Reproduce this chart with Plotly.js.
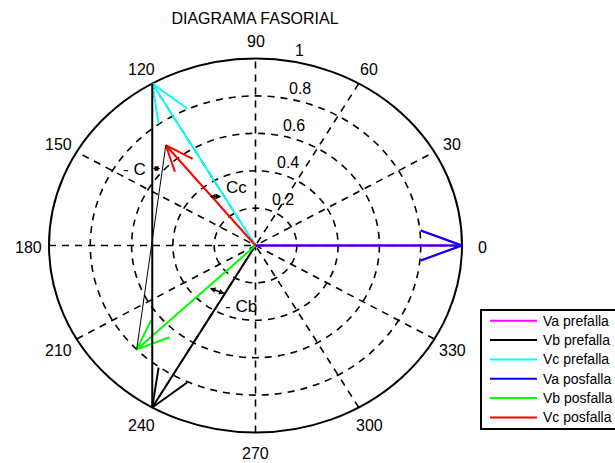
<!DOCTYPE html>
<html><head><meta charset="utf-8">
<script src="https://cdn.plot.ly/plotly-3.0.1.min.js"></script>
<style>html,body{margin:0;padding:0;background:#fff}#chart{width:615px;height:463px}</style>
</head><body><div id="chart"></div>
<script>
// ---- data ----
const seriesNames = ['Va prefalla', 'Vb prefalla', 'Vc prefalla', 'Va posfalla', 'Vb posfalla', 'Vc posfalla'];
const magnitudes = [1.0, 1.0, 1.0, 1.0, 0.80, 0.69];
const anglesDeg = [0, 240, 120, 0, 224, 129];
const seriesColors = ['#ff00ff', '#000000', '#00ffff', '#0000ff', '#00ff00', '#ff0000'];
const angleTicks = [0, 30, 60, 90, 120, 150, 180, 210, 240, 270, 300, 330];
const angleTickLabels = ['0', '30', '60', '90', '120', '150', '180', '210', '240', '270', '300', '330'];
const ringValues = [0.2, 0.4, 0.6, 0.8, 1];
const ringLabels = ['0.2', '0.4', '0.6', '0.8', '1'];
// lines joining phasor tips: [from series index, to series index]
const connectors = [[1, 2], [5, 4]];
const angleMarkLabels = ['Cc', '- C', '- Cb'];

// ---- geometry helpers ----
const RAD = Math.PI / 180;
function tip(m, a) { return [m * Math.cos(a * RAD), m * Math.sin(a * RAD)]; }
// compass-style arrow: [0, 1, 0.8+0.08i, 1, 0.8-0.08i] * z
function arrow(m, a) {
  const zr = m * Math.cos(a * RAD), zi = m * Math.sin(a * RAD);
  const base = [[0, 0], [1, 0], [0.8, 0.08], [1, 0], [0.8, -0.08]];
  const x = [], y = [];
  base.forEach(([br, bi]) => { x.push(br * zr - bi * zi); y.push(br * zi + bi * zr); });
  return {x, y};
}

const traces = [];
seriesNames.forEach((name, i) => {
  const p = arrow(magnitudes[i], anglesDeg[i]);
  traces.push({type: 'scatter', mode: 'lines', x: p.x, y: p.y, name: name, showlegend: false,
    line: {color: seriesColors[i], width: 2}, hoverinfo: 'skip'});
});
connectors.forEach(([a, b], k) => {
  const p1 = tip(magnitudes[a], anglesDeg[a]), p2 = tip(magnitudes[b], anglesDeg[b]);
  traces.push({type: 'scatter', mode: 'lines', x: [p1[0], p2[0]], y: [p1[1], p2[1]],
    showlegend: false, line: {color: '#000', width: k === 0 ? 2 : 1}, hoverinfo: 'skip'});
});

// ---- grid (polar rings and spokes) ----
const shapes = [];
ringValues.forEach(r => {
  shapes.push({type: 'circle', xref: 'x', yref: 'y', x0: -r, x1: r, y0: -r, y1: r, layer: 'below',
    line: r === 1 ? {color: '#000', width: 2} : {color: '#000', width: 1.6, dash: '7px,6px'}});
});
[0, 30, 60, 90, 120, 150].forEach(a => {
  const c = Math.cos(a * RAD), s = Math.sin(a * RAD);
  shapes.push({type: 'line', xref: 'x', yref: 'y', x0: -c, y0: -s, x1: c, y1: s, layer: 'below',
    line: {color: '#000', width: 1.6, dash: '7px,6px'}});
});

const font = 'Liberation Sans, Arial, sans-serif';
const annotations = [];
angleTicks.forEach((a, i) => {
  annotations.push({x: 1.1 * Math.cos(a * RAD), y: 1.1 * Math.sin(a * RAD), xref: 'x', yref: 'y',
    text: angleTickLabels[i], showarrow: false, xanchor: 'center', yanchor: 'middle', yshift: -2,
    font: {family: font, size: 16, color: '#000'}});
});
const c82 = Math.cos(82 * RAD), s82 = Math.sin(82 * RAD);
ringValues.forEach((r, i) => {
  annotations.push({x: (r + 0.01) * c82, y: (r + 0.01) * s82, xref: 'x', yref: 'y',
    text: ringLabels[i], showarrow: false, xanchor: 'left', yanchor: 'bottom', xshift: 8, yshift: -3,
    font: {family: font, size: 16, color: '#000'}});
});
// angle labels and their small double-headed markers
const markLabelPos = [[-0.09, 0.31], [-0.584, 0.409], [-0.07, -0.325]];
const markArrows = [[-0.228, 0.262, -0.165, 0.262], [-0.505, 0.412, -0.461, 0.412], [-0.228, -0.225, -0.150, -0.257]];
angleMarkLabels.forEach((t, i) => {
  annotations.push({x: markLabelPos[i][0], y: markLabelPos[i][1], xref: 'x', yref: 'y', text: t,
    showarrow: false, font: {family: font, size: 17, color: '#000'}});
  const m = markArrows[i];
  annotations.push({x: m[2], y: m[3], ax: m[0], ay: m[1], xref: 'x', yref: 'y', axref: 'x', ayref: 'y',
    text: '', showarrow: true, arrowhead: 2, arrowside: 'end+start', arrowsize: 0.7, arrowwidth: 1.6,
    arrowcolor: '#000', standoff: 0, startstandoff: 0});
});

// ---- legend box (runs past the right edge, as in the reference) ----
const W = 615, H = 463;
const px = v => v / W, py = v => 1 - v / H;
shapes.push({type: 'rect', xref: 'paper', yref: 'paper', x0: px(481), x1: px(660), y0: py(429), y1: py(310),
  fillcolor: '#fff', line: {color: '#000', width: 2}, layer: 'above'});
seriesNames.forEach((name, i) => {
  const yc = 320.7 + 19.35 * i;
  shapes.push({type: 'line', xref: 'paper', yref: 'paper', x0: px(490), x1: px(537), y0: py(yc), y1: py(yc),
    line: {color: seriesColors[i], width: 2}, layer: 'above'});
  annotations.push({x: px(541), y: py(yc), xref: 'paper', yref: 'paper', text: name, showarrow: false,
    xanchor: 'left', yanchor: 'middle', font: {family: font, size: 14, color: '#000'}});
});

const layout = {
  width: W, height: H,
  margin: {l: 0, r: 0, t: 0, b: 0, pad: 0, autoexpand: false},
  paper_bgcolor: '#fff', plot_bgcolor: '#fff',
  title: {text: 'DIAGRAMA FASORIAL', x: 255 / 615, xanchor: 'center', y: 1 - 18 / 463, yanchor: 'middle',
    font: {family: font, size: 16, color: '#000'}},
  xaxis: {range: [-255.5 / 206.5, (615 - 255.5) / 206.5], visible: false, fixedrange: true},
  yaxis: {range: [-(463 - 245.5) / 187, 245.5 / 187], visible: false, fixedrange: true},
  showlegend: false,
  shapes: shapes,
  annotations: annotations
};
Plotly.newPlot('chart', traces, layout, {staticPlot: true, displayModeBar: false});
</script>
</body></html>
